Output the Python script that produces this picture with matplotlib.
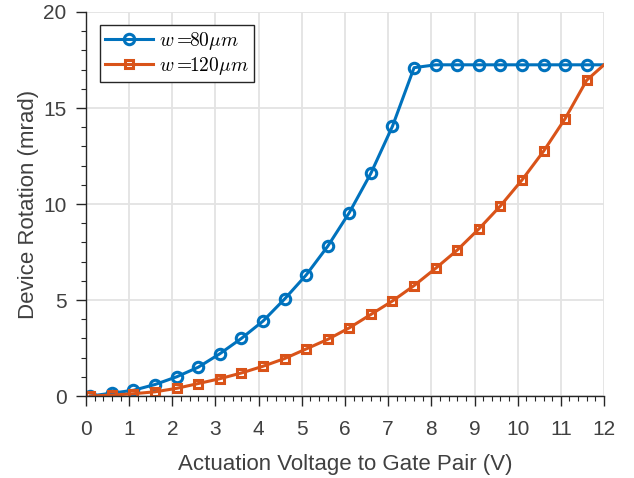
import matplotlib.pyplot as plt
from matplotlib.ticker import MultipleLocator

plt.rcParams['font.family'] = ['Liberation Sans', 'DejaVu Sans']
plt.rcParams['mathtext.fontset'] = 'cm'

# actuation voltage (V); last point has no marker
voltage = [0.1, 0.6, 1.1, 1.6, 2.1, 2.6, 3.1, 3.6, 4.1, 4.6, 5.1, 5.6,
           6.1, 6.6, 7.1, 7.6, 8.1, 8.6, 9.1, 9.6, 10.1, 10.6, 11.1, 11.6, 12.0]

rot_w80 = [0.0, 0.15, 0.3, 0.6, 1.0, 1.5, 2.2, 3.0, 3.9, 5.05, 6.3, 7.8,
           9.55, 11.6, 14.05, 17.1, 17.25, 17.25, 17.25, 17.25, 17.25, 17.25,
           17.25, 17.25, 17.25]
rot_w120 = [0.0, 0.05, 0.12, 0.22, 0.4, 0.65, 0.9, 1.2, 1.55, 1.95, 2.45, 2.95,
            3.55, 4.25, 4.95, 5.75, 6.65, 7.6, 8.7, 9.9, 11.25, 12.75,
            14.45, 16.45, 17.25]

labels = [r'$w=\!\!80\mu m$', r'$w=\!\!120\mu m$']

fig = plt.figure(figsize=(6.34, 4.78), dpi=100)
ax = fig.add_axes([0.1356, 0.1715, 0.8171, 0.8034])

marks = list(range(len(voltage) - 1))
ax.plot(voltage, rot_w80, color='#0072BD', lw=2.2, marker='o', ms=7.5,
        mfc='none', mew=2.2, markevery=marks, label=labels[0])
ax.plot(voltage, rot_w120, color='#D95319', lw=2.2, marker='s', ms=6,
        mfc='none', mew=2.2, markevery=marks, label=labels[1])

ax.set_xlim(0, 12)
ax.set_ylim(0, 20)
ax.xaxis.set_major_locator(MultipleLocator(1))
ax.xaxis.set_minor_locator(MultipleLocator(0.2))
ax.yaxis.set_major_locator(MultipleLocator(5))
ax.yaxis.set_minor_locator(MultipleLocator(1))
ax.grid(True, which='major', color='#e3e3e3', lw=1.3)
ax.set_axisbelow(True)

for s in ['top', 'right']:
    ax.spines[s].set_visible(False)
for s in ['left', 'bottom']:
    ax.spines[s].set_color('#262626')
    ax.spines[s].set_linewidth(1.0)

ax.tick_params(which='major', direction='out', length=7, width=1.0,
               colors='#262626', labelsize=15, pad=7)
ax.tick_params(axis='x', which='major', pad=10)
ax.tick_params(which='minor', direction='out', length=3.5, width=0.8,
               colors='#262626')
for lab in ax.get_xticklabels() + ax.get_yticklabels():
    lab.set_color('#404040')

ax.set_xlabel('Actuation Voltage to Gate Pair (V)', fontsize=16, color='#404040',
              labelpad=11)
ax.set_ylabel('Device Rotation (mrad)', fontsize=16, color='#404040', labelpad=3)

leg = ax.legend(loc='upper left', fontsize=14, fancybox=False, framealpha=1,
                edgecolor='#262626', handlelength=2.5, borderpad=0.25,
                labelspacing=0.15, handletextpad=0.3, borderaxespad=0,
                bbox_to_anchor=(0.027, 0.966))
leg.get_frame().set_linewidth(1.0)

fig.savefig('out.png', dpi=100)
